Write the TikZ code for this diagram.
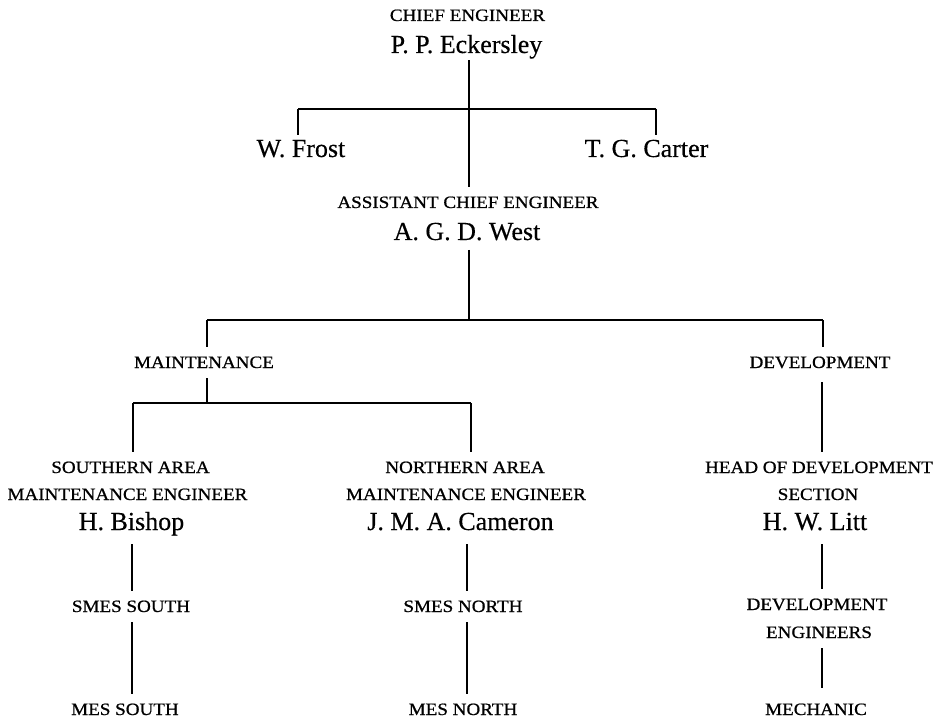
\documentclass[tikz,border=0pt]{standalone}
\usepackage{fontspec}
\setmainfont{Liberation Serif}
\newfontfamily\titlefamily[FakeStretch=1.1,FakeBold=0.8]{Liberation Serif}
\newfontfamily\personfamily[FakeBold=0.4]{Liberation Serif}
\begin{document}
\begin{tikzpicture}[x=0.75pt,y=-0.75pt,
  title/.style={font=\titlefamily\fontsize{13}{16}\selectfont, anchor=base,
    inner sep=0pt, outer xsep=0pt, outer ysep=7.5pt, text height=8.6pt, text depth=0pt},
  person/.style={font=\personfamily\fontsize{19.5}{22}\selectfont, anchor=base,
    inner sep=0pt, outer xsep=0pt, outer ysep=7.5pt, text height=12.9pt, text depth=0pt},
  link/.style={line width=0.9pt, line cap=butt}]
\fill[white] (0,0) rectangle (935,720);
\useasboundingbox (0,0) rectangle (935,720);

% nodes
\node[title]  (ce)      at (467.5,21)  {CHIEF ENGINEER};
\node[person] (eck)     at (466.5,53)  {P. P. Eckersley};
\node[person] (frost)   at (301,157)   {W. Frost};
\node[person] (carter)  at (646.5,157) {T. G. Carter};
\node[title]  (ace)     at (468,208)   {ASSISTANT CHIEF ENGINEER};
\node[person] (west)    at (467,240)   {A. G. D. West};
\node[title]  (maint)   at (204,368)   {MAINTENANCE};
\node[title]  (dev)     at (820,368)   {DEVELOPMENT};
\node[title]  (sa1)     at (130.5,473) {SOUTHERN AREA};
\node[title]  (sa2)     at (127.5,500) {MAINTENANCE ENGINEER};
\node[person] (bishop)  at (131.5,530) {H. Bishop};
\node[title]  (na1)     at (465,473)   {NORTHERN AREA};
\node[title]  (na2)     at (466,500)   {MAINTENANCE ENGINEER};
\node[person] (cameron) at (460.5,530) {J. M. A. Cameron};
\node[title]  (hd1)     at (819,473)   {HEAD OF DEVELOPMENT};
\node[title]  (hd2)     at (818,500)   {SECTION};
\node[person] (litt)    at (815,530)   {H. W. Litt};
\node[title]  (smess)   at (131,612)   {SMES SOUTH};
\node[title]  (smesn)   at (463,612)   {SMES NORTH};
\node[title]  (dev2)    at (817,610)   {DEVELOPMENT};
\node[title]  (eng)     at (819,638)   {ENGINEERS};
\node[title]  (mess)    at (125,715)   {MES SOUTH};
\node[title]  (mesn)    at (463,715)   {MES NORTH};
\node[title]  (mech)    at (816,715)   {MECHANIC};

% junction coordinates
\coordinate (c1)  at (469,109);
\coordinate (h1l) at (298,109);
\coordinate (h1r) at (656,109);
\coordinate (c2)  at (469,320);
\coordinate (h2l) at (207,320);
\coordinate (h2r) at (823,320);
\coordinate (h3l) at (133,403);
\coordinate (h3r) at (471,403);
\coordinate (colA) at (132,0);
\coordinate (colB) at (467,0);
\coordinate (colC) at (822,0);

% connectors
\draw[link, shorten <=-2pt] (c1 |- eck.south) -- (c1 |- ace.north);
\draw[link] (h1l) -- (h1r);
\draw[link, shorten >=-4pt] (h1l) -- (h1l |- frost.north);
\draw[link, shorten >=-4pt] (h1r) -- (h1r |- carter.north);
\draw[link] (c2 |- west.south) -- (c2);
\draw[link] (h2l) -- (h2r);
\draw[link] (h2l) -- (h2l |- maint.north);
\draw[link] (h2r) -- (h2r |- dev.north);
\draw[link] (h2l |- maint.south) -- (h2l |- h3l);
\draw[link] (h3l) -- (h3r);
\draw[link] (h3l) -- (h3l |- sa1.north);
\draw[link] (h3r) -- (h3r |- na1.north);
\draw[link, shorten <=3pt] (colC |- dev.south) -- (colC |- hd1.north);
\draw[link, shorten <=3pt] (colA |- bishop.south) -- (colA |- smess.north);
\draw[link] (colA |- smess.south) -- (colA |- mess.north);
\draw[link, shorten <=3pt] (colB |- cameron.south) -- (colB |- smesn.north);
\draw[link] (colB |- smesn.south) -- (colB |- mesn.north);
\draw[link, shorten <=3pt] (colC |- litt.south) -- (colC |- dev2.north);
\draw[link, shorten >=4pt] (colC |- eng.south) -- (colC |- mech.north);
\end{tikzpicture}
\end{document}
